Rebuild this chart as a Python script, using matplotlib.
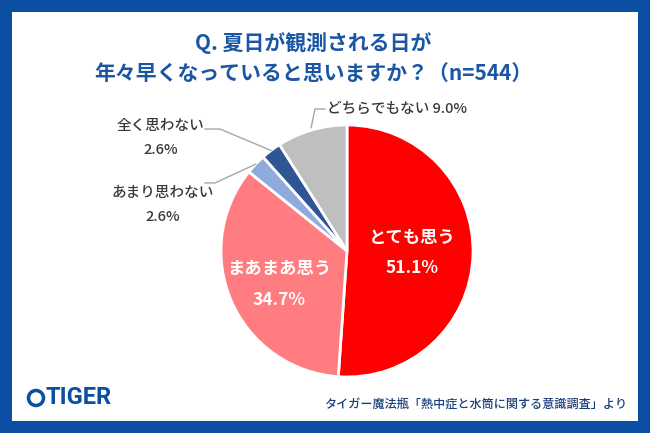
import numpy as np
import matplotlib.pyplot as plt
from matplotlib.patches import Rectangle, Ellipse

plt.rcParams['font.family'] = ['Noto Sans CJK JP', 'DejaVu Sans']

labels = ['とても思う', 'まあまあ思う', 'あまり思わない', '全く思わない', 'どちらでもない']
values = [51.1, 34.7, 2.6, 2.6, 9.0]
colors = ['#FF0000', '#FF7C80', '#8FAADC', '#2F5597', '#BFBFBF']
title = 'Q. 夏日が観測される日が\n年々早くなっていると思いますか？（n=544）'
source = 'タイガー魔法瓶「熱中症と水筒に関する意識調査」より'

W, H = 650, 433
blue = '#0B4EA2'
fig = plt.figure(figsize=(W / 100, H / 100), dpi=100)
fig.patch.set_facecolor(blue)
fig.patches.append(Rectangle((12 / W, 12 / H), 626 / W, 409 / H,
                             transform=fig.transFigure, facecolor='white',
                             edgecolor='none', zorder=-5))

def px(x, y):
    return x / W, 1 - y / H

fig.text(*px(313, 58), title, ha='center', va='center', color='#1B56A5',
         fontsize=15, fontweight='bold', linespacing=1.5)

# pie area: center (347, 251), radius 126 px
cx, cy, r = 347, 251, 126
ax = fig.add_axes([(cx - r) / W, (H - cy - r) / H, 2 * r / W, 2 * r / H])
ax.set_zorder(2)
ax.patch.set_visible(False)
wedges, _ = ax.pie(values, colors=colors, startangle=90, counterclock=False,
                   wedgeprops=dict(edgecolor='white', linewidth=2))
ax.set_xlim(-1, 1)
ax.set_ylim(-1, 1)
ax.set_aspect('equal')
ax.axis('off')

def mid(w):
    a = np.deg2rad((w.theta1 + w.theta2) / 2)
    return np.cos(a), np.sin(a)

# inside labels (distance from centre, vertical nudge)
for i, d, dy in [(0, 0.52, 0.0), (1, 0.59, -0.03)]:
    mx, my = mid(wedges[i])
    ax.text(mx * d, my * d + dy + 0.12, labels[i], ha='center', va='center',
            color='white', fontsize=12.5, fontweight='bold')
    ax.text(mx * d, my * d + dy - 0.12, f'{values[i]:.1f}%', ha='center',
            va='center', color='white', fontsize=12.5, fontweight='bold')

txt = '#3A3A3A'
line = '#A6A6A6'
fs = 10.5

# どちらでもない
mx, my = mid(wedges[4])
ax.plot([mx * 1.02, -0.254, -0.175], [my * 1.02, 1.127, 1.127],
        color=line, lw=1, clip_on=False)
ax.text(-0.16, 1.127, f'{labels[4]} {values[4]:.1f}%', ha='left', va='center',
        color=txt, fontsize=fs, fontweight='medium')

# 全く思わない
mx, my = mid(wedges[3])
ax.plot([mx, -1.008, -1.127], [my, 0.968, 0.968], color=line, lw=1, clip_on=False)
ax.text(-1.48, 0.99, labels[3], ha='center', va='center', color=txt,
        fontsize=fs, fontweight='medium')
ax.text(-1.48, 0.80, f'{values[3]:.1f}%', ha='center', va='center', color=txt,
        fontsize=fs, fontweight='medium')

# あまり思わない
mx, my = mid(wedges[2])
ax.plot([mx, -1.048, -1.127], [my, 0.54, 0.54], color=line, lw=1, clip_on=False)
ax.text(-1.46, 0.46, labels[2], ha='center', va='center', color=txt,
        fontsize=fs, fontweight='medium')
ax.text(-1.46, 0.27, f'{values[2]:.1f}%', ha='center', va='center', color=txt,
        fontsize=fs, fontweight='medium')

# logo: simple badge + wordmark
fig.patches.append(Ellipse(px(36, 398), 15 / W, 15 / H, transform=fig.transFigure,
                           facecolor='white', edgecolor=blue, lw=2.5, zorder=1))
fig.text(*px(45, 398), 'TIGER', ha='left', va='center', color=blue,
         fontsize=17, fontweight='bold', family=['Roboto', 'DejaVu Sans'])
fig.text(*px(627, 404), source, ha='right', va='center', color='#1B3F7A',
         fontsize=8.7, fontweight='medium')

fig.savefig('out.png', dpi=100, facecolor=blue)
